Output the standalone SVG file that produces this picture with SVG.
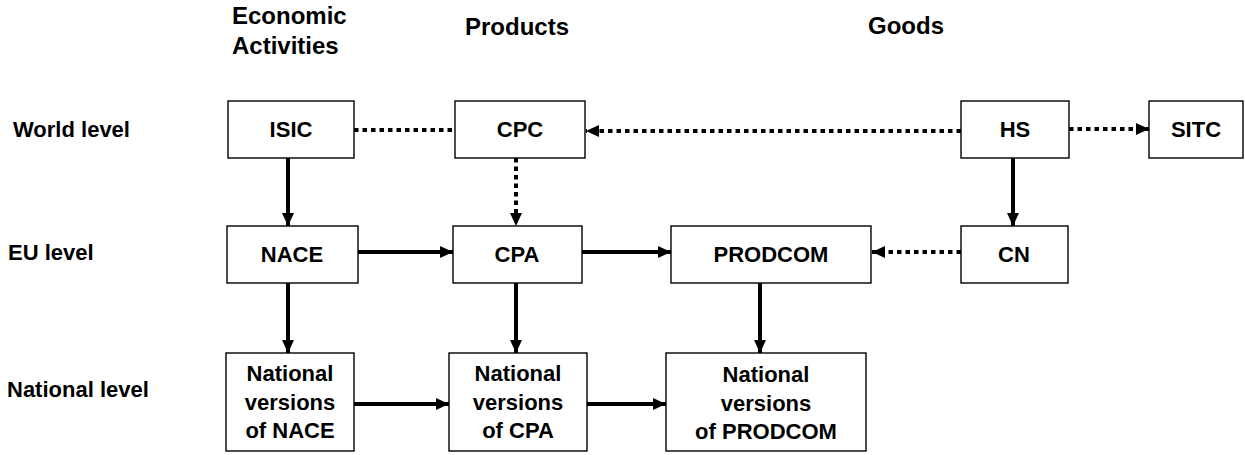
<svg xmlns="http://www.w3.org/2000/svg" width="1245" height="455" viewBox="0 0 1245 455">
<style>
  text { font-family: "Liberation Sans", Arial, sans-serif; font-weight: bold; font-size: 22px; fill: #000; }
  .h { font-size: 24px; }
  .c { text-anchor: middle; }
  .box { fill: #fff; stroke: #000; stroke-width: 1.4; }
  .solid { stroke: #000; stroke-width: 4; fill: none; }
  .dot { stroke: #000; stroke-width: 4; fill: none; stroke-dasharray: 4.5 4; }
</style>
<defs>
  <marker id="ah" markerUnits="userSpaceOnUse" markerWidth="14" markerHeight="12" refX="13" refY="6" orient="auto">
    <path d="M0,0 L13,6 L0,12 Z" fill="#000"/>
  </marker>
</defs>

<g id="headers">
  <text x="232" y="24" class="h">Economic</text>
  <text x="232" y="54" class="h">Activities</text>
  <text x="517" y="35" class="h c">Products</text>
  <text x="868" y="34" class="h">Goods</text>
</g>
<g id="levels">
  <text x="13" y="137">World level</text>
  <text x="8" y="260">EU level</text>
  <text x="7" y="397">National level</text>
</g>

<g id="connectors">
  <line class="dot" x1="354" y1="130" x2="455" y2="130"/>
  <line class="dot" x1="961" y1="131" x2="586" y2="131" marker-end="url(#ah)"/>
  <line class="dot" x1="1069" y1="129" x2="1149" y2="129" marker-end="url(#ah)"/>
  <line class="solid" x1="288" y1="158" x2="288" y2="226" marker-end="url(#ah)"/>
  <line class="dot" x1="516" y1="158" x2="516" y2="226" marker-end="url(#ah)"/>
  <line class="solid" x1="1013" y1="158" x2="1013" y2="226" marker-end="url(#ah)"/>
  <line class="solid" x1="358" y1="252" x2="453" y2="252" marker-end="url(#ah)"/>
  <line class="solid" x1="582" y1="252" x2="671" y2="252" marker-end="url(#ah)"/>
  <line class="dot" x1="961" y1="252" x2="872" y2="252" marker-end="url(#ah)"/>
  <line class="solid" x1="288" y1="283" x2="288" y2="353" marker-end="url(#ah)"/>
  <line class="solid" x1="516" y1="283" x2="516" y2="353" marker-end="url(#ah)"/>
  <line class="solid" x1="760" y1="283" x2="760" y2="353" marker-end="url(#ah)"/>
  <line class="solid" x1="354" y1="404" x2="449" y2="404" marker-end="url(#ah)"/>
  <line class="solid" x1="587" y1="404" x2="666" y2="404" marker-end="url(#ah)"/>
</g>

<g id="isic"><rect class="box" x="228" y="101" width="126" height="57"/><text x="291" y="137" class="c">ISIC</text></g>
<g id="cpc"><rect class="box" x="455" y="101" width="130" height="57"/><text x="520" y="137" class="c">CPC</text></g>
<g id="hs"><rect class="box" x="961" y="101" width="108" height="57"/><text x="1015" y="137" class="c">HS</text></g>
<g id="sitc"><rect class="box" x="1149" y="101" width="94" height="57"/><text x="1196" y="137" class="c">SITC</text></g>

<g id="nace"><rect class="box" x="227" y="226" width="131" height="57"/><text x="292" y="262" class="c">NACE</text></g>
<g id="cpa"><rect class="box" x="453" y="226" width="129" height="57"/><text x="517" y="262" class="c">CPA</text></g>
<g id="prodcom"><rect class="box" x="671" y="226" width="200" height="57"/><text x="771" y="262" class="c">PRODCOM</text></g>
<g id="cn"><rect class="box" x="961" y="226" width="107" height="57"/><text x="1014" y="262" class="c">CN</text></g>

<g id="nat-nace"><rect class="box" x="226" y="353" width="128" height="98"/>
  <text x="290" y="381" class="c">National</text><text x="290" y="410" class="c">versions</text><text x="290" y="438" class="c">of NACE</text></g>
<g id="nat-cpa"><rect class="box" x="449" y="353" width="138" height="98"/>
  <text x="518" y="381" class="c">National</text><text x="518" y="410" class="c">versions</text><text x="518" y="438" class="c">of CPA</text></g>
<g id="nat-prodcom"><rect class="box" x="666" y="353" width="200" height="98"/>
  <text x="766" y="382" class="c">National</text><text x="766" y="411" class="c">versions</text><text x="766" y="439" class="c">of PRODCOM</text></g>
</svg>
